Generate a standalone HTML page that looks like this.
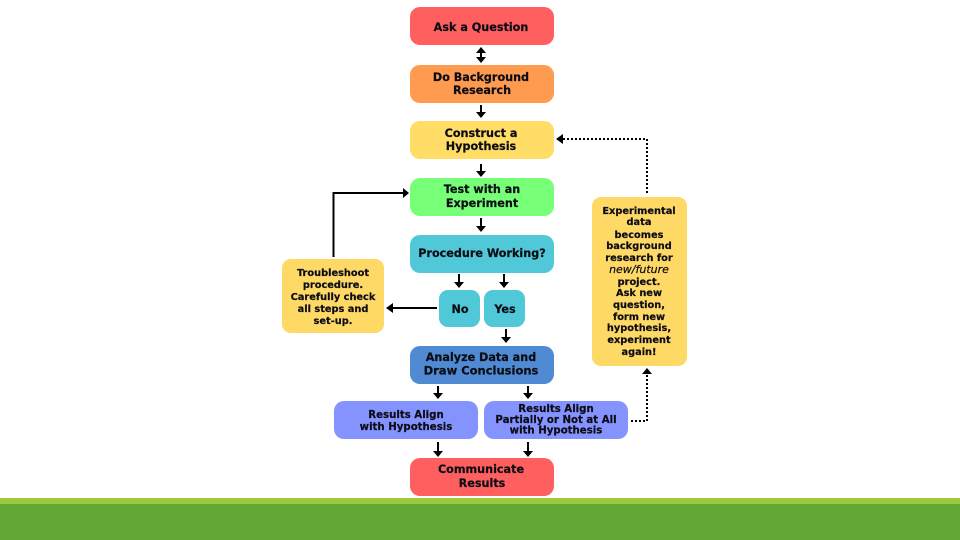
<!DOCTYPE html>
<html><head><meta charset="utf-8"><style>
html,body{margin:0;padding:0;background:#fff}
svg{display:block}
text{font-family:"DejaVu Sans","Liberation Sans",sans-serif;font-weight:bold;fill:#0c0c14;stroke:#0c0c14;stroke-width:.2;text-anchor:middle}
</style></head><body>
<svg width="960" height="540" viewBox="0 0 960 540" xmlns="http://www.w3.org/2000/svg">
<rect width="960" height="540" fill="#fff"/>
<rect y="498" width="960" height="6" fill="#9BC83C"/>
<rect y="504" width="960" height="36" fill="#62A734"/>
<g>
<rect x="410" y="7" width="144" height="38" rx="10" fill="#FF5F5F"/>
<rect x="410" y="65" width="144" height="38" rx="10" fill="#FF9B50"/>
<rect x="410" y="121" width="144" height="38" rx="10" fill="#FFDD66"/>
<rect x="410" y="178" width="144" height="38" rx="10" fill="#77FF77"/>
<rect x="410" y="235" width="144" height="38" rx="10" fill="#50C8D8"/>
<rect x="439" y="290" width="41" height="37" rx="9" fill="#50C8D8"/>
<rect x="484" y="290" width="41" height="37" rx="9" fill="#50C8D8"/>
<rect x="410" y="346" width="144" height="38" rx="10" fill="#4F8AD2"/>
<rect x="334" y="401" width="144" height="38" rx="10" fill="#8593FF"/>
<rect x="484" y="401" width="144" height="38" rx="10" fill="#8593FF"/>
<rect x="410" y="458" width="144" height="38" rx="10" fill="#FF5F5F"/>
<rect x="282" y="259" width="102" height="74" rx="9" fill="#FFD966"/>
<rect x="592" y="197" width="95" height="169" rx="9" fill="#FFD966"/>
</g>
<g fill="none" stroke="#000" stroke-width="2">
<path d="M481 52V58M481 105V114M481 164V173M481 218V228M459 274V284M504 274V284M506 329V339M438 386V395M528 386V395M438 442V453M528 442V453"/>
<path d="M333.500 257V193H404M437 308H392"/>
<path stroke-dasharray="2 2" d="M647 193V139H563M631 421H647V373"/>
</g>
<g fill="#000">
<path d="M476 53L481 47L486 53ZM476 57L481 63L486 57Z"/>
<path d="M476 112L481 118L486 112ZM476 171L481 177L486 171ZM476 226L481 232L486 226Z"/>
<path d="M454 282L459 288L464 282ZM499 282L504 288L509 282ZM501 337L506 343L511 337Z"/>
<path d="M433 393L438 399L443 393ZM523 393L528 399L533 393ZM433 451L438 457L443 451ZM523 451L528 457L533 451Z"/>
<path d="M403 188L409 193L403 198ZM393 303L386 308L393 313ZM563 134L556 139L563 144ZM642 374L647 368L652 374Z"/>
</g>
<g font-size="11.2">
<text x="481" y="31">Ask a Question</text>
<text x="481" y="81">Do Background</text><text x="482" y="94">Research</text>
<text x="481" y="137">Construct a</text><text x="481" y="150">Hypothesis</text>
<text x="482" y="193">Test with an</text><text x="482" y="207">Experiment</text>
<text x="482" y="257">Procedure Working?</text>
<text x="460" y="313">No</text><text x="505" y="313">Yes</text>
<text x="481" y="361">Analyze Data and</text><text x="481" y="374.500" font-size="11.500">Draw Conclusions</text>
<text x="481" y="473">Communicate</text><text x="482" y="487">Results</text>
</g>
<g font-size="10.2">
<text x="406" y="418">Results Align</text><text x="406" y="430">with Hypothesis</text>
<text x="556" y="412">Results Align</text><text x="556" y="423">Partially or Not at All</text><text x="556" y="433.500">with Hypothesis</text>
</g>
<g font-size="9.8">
<text x="333" y="276">Troubleshoot</text><text x="333" y="288">procedure.</text><text x="333" y="300">Carefully check</text><text x="333" y="312">all steps and</text><text x="333" y="324">set-up.</text>
<text x="639" y="214">Experimental</text><text x="639" y="225">data</text><text x="639" y="238">becomes</text><text x="639" y="249">background</text><text x="639" y="261">research for</text><text x="639" y="273" style="font-style:italic;font-weight:normal;font-size:11px">new/future</text><text x="639" y="285">project.</text><text x="639" y="296">Ask new</text><text x="639" y="308">question,</text><text x="639" y="320">form new</text><text x="639" y="331">hypothesis,</text><text x="639" y="343">experiment</text><text x="639" y="355">again!</text>
</g>
</svg>
</body></html>
